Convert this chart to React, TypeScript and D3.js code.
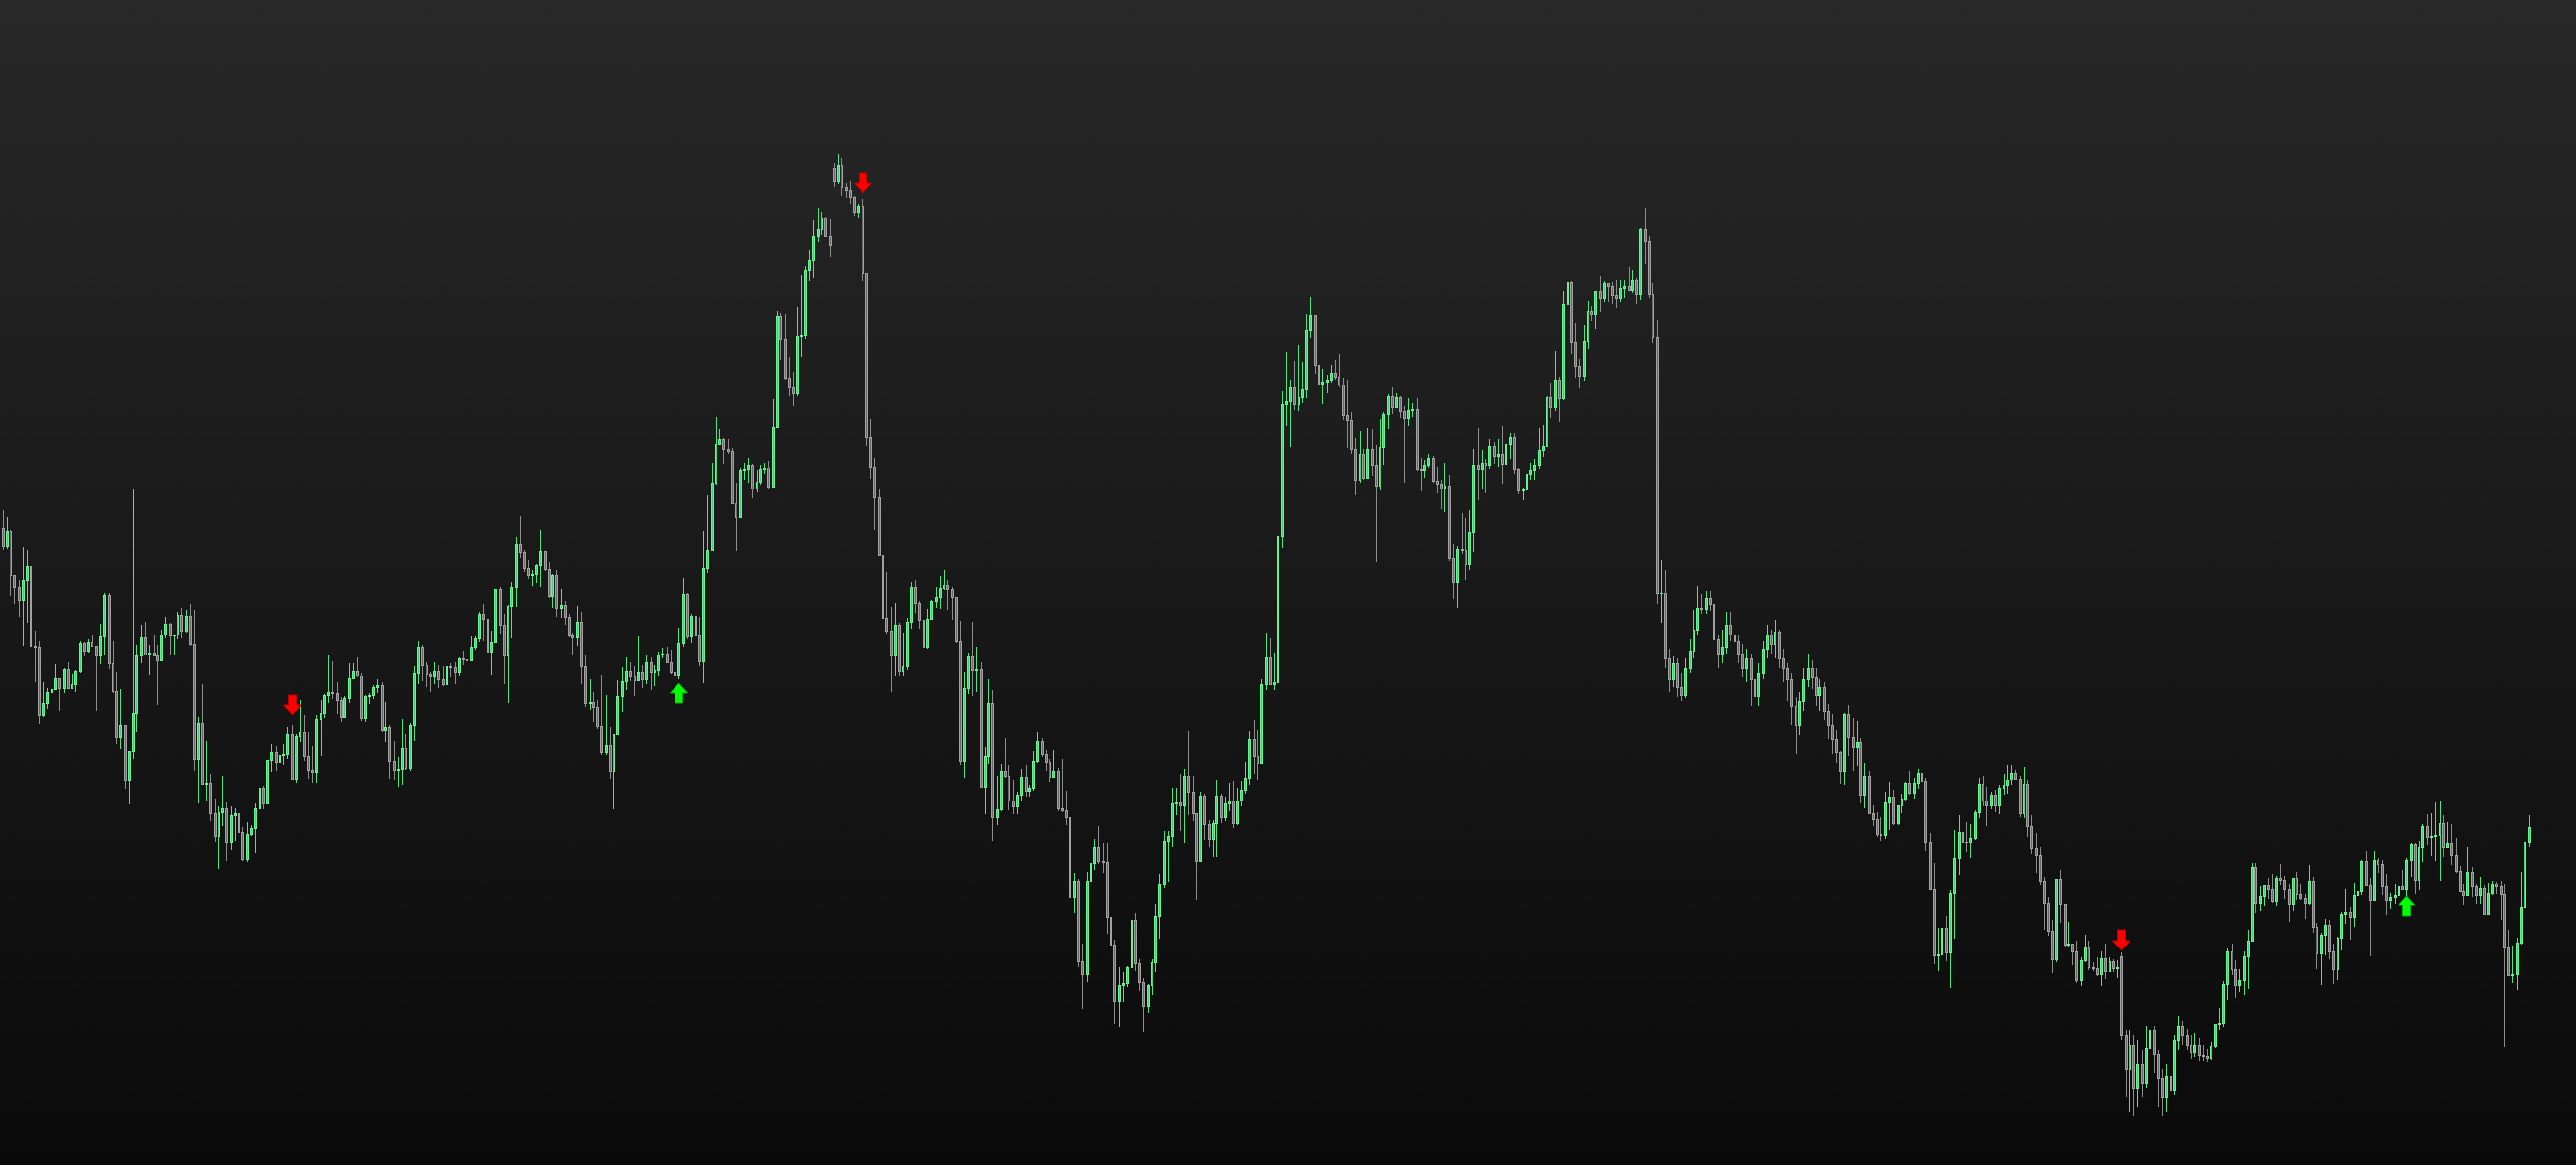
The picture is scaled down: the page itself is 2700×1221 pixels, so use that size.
import React from "react";
import * as d3 from "d3";

// price in points, one entry per candle (open = previous close unless gapped)
const closes = [
  628,643,597,585,571,592,607,523,522,451, 463,475,478,489,479,499,479,483,497,526,
  518,527,523,513,533,576,505,476,428,440, 382,413,453,513,532,514,516,513,508,535,
  546,534,535,555,539,554,525,404,442,378, 379,348,324,349,353,318,346,348,328,300,
  326,332,353,374,358,403,412,401,409,410, 431,384,429,433,408,393,391,446,453,472,
  475,474,466,449,468,489,497,492,447,471, 472,480,482,435,438,402,393,394,416,395,
  440,495,522,503,494,491,497,488,483,502, 501,496,510,509,508,522,531,556,551,517,
  527,583,545,513,565,585,630,621,605,597, 598,608,622,604,575,597,563,566,553,534,
  532,548,502,463,464,459,439,412,419,392, 431,471,486,497,491,487,496,488,506,496,
  498,514,515,506,496,493,526,577,533,554, 534,507,605,624,694,735,740,729,727,673,
  658,707,708,713,688,695,708,710,690,752, 869,845,804,794,788,848,849,917,927,953,
  960,972,953,943,1010,1027,1004,1001,994,978, 984,914,742,711,679,618,552,539,513,545,
  497,502,548,585,568,550,522,551,570,574, 584,587,583,574,528,402,479,512,498,499,
  375,408,463,344,352,392,387,361,355,367, 386,371,374,402,423,410,401,386,392,353,
  351,344,260,277,193,179,277,295,312,298, 297,239,210,151,168,170,186,236,191,171,
  146,168,192,240,273,319,324,358,359,356, 387,370,348,298,366,336,321,337,366,344,
  358,361,337,361,372,385,425,408,400,483, 511,483,485,638,777,780,794,777,784,792,
  854,870,817,798,800,802,809,805,797,765, 760,729,697,724,699,729,713,691,731,766,
  785,773,784,769,762,770,771,708,707,713, 720,696,693,688,691,615,590,625,624,609,
  642,713,708,715,713,733,722,724,714,735, 742,708,686,687,703,707,713,728,733,784,
  773,802,783,881,904,842,816,806,843,874, 871,895,888,903,900,891,888,898,900,896,
  907,892,960,947,892,847,578,579,510,488, 505,480,472,500,518,540,563,562,573,567,
  530,515,522,545,535,528,515,500,510,488, 470,495,520,535,525,538,510,500,488,460,
  440,465,488,500,490,472,480,455,440,425, 412,392,452,428,417,422,367,387,348,342,
  326,325,359,365,337,356,363,379,369,379, 390,381,318,268,199,200,227,202,264,301,
  328,318,317,322,349,378,361,356,367,356, 374,377,383,390,384,348,378,334,311,304,
  277,254,224,195,279,253,210,211,203,173, 194,207,186,185,179,196,182,193,185,186,
  115,80,105,60,85,65,102,120,95,70, 50,72,58,110,125,115,105,97,105,94,
  93,91,104,127,128,169,203,184,168,173, 198,214,291,254,261,272,268,256,280,278,
  268,253,280,263,259,254,277,228,201,220, 231,203,184,217,242,244,239,262,266,298,
  272,257,299,294,271,257,260,262,271,268, 299,315,278,312,334,323,324,325,337,312,
  316,304,287,266,262,286,271,262,269,242, 264,274,271,263,207,178,179,212,249,318,
  333,
];

const highs = [
  666,658,644,596,592,627,624,607,539,528, 485,479,488,504,489,500,506,494,498,528,
  527,530,535,523,546,579,578,528,496,478, 440,413,687,524,545,548,524,534,524,540,
  553,547,535,559,563,561,567,561,449,483, 423,389,363,355,387,359,355,353,353,333,
  339,335,358,379,376,403,420,418,416,420, 438,440,431,466,451,433,418,451,466,473,
  513,507,485,469,471,505,505,511,495,472, 474,482,488,485,464,440,423,407,446,431,
  442,502,528,524,506,496,506,503,502,503, 505,506,511,518,513,533,533,559,567,555,
  539,583,585,557,566,590,637,659,624,613, 603,609,644,622,611,598,603,583,570,557,
  537,565,559,513,488,475,466,493,472,438, 431,487,501,511,506,502,533,503,513,511,
  503,517,521,522,519,526,542,594,578,557, 561,553,643,681,715,763,750,741,740,730,
  694,709,715,720,714,707,713,715,717,782, 874,872,871,826,810,878,912,921,938,969,
  982,978,973,970,1029,1039,1034,1008,1010,995, 986,991,914,761,720,688,627,601,564,568,
  547,537,552,590,592,570,565,562,571,585, 596,603,592,585,574,549,496,516,548,522,
  506,417,488,477,387,399,427,398,383,370, 394,398,377,413,433,427,414,404,414,395,
  404,371,354,285,279,211,286,312,321,334, 316,316,273,215,186,181,188,260,243,195,
  175,169,195,253,284,329,329,374,374,389, 394,434,387,348,370,368,341,341,382,368,
  365,379,381,374,381,401,434,445,435,488, 537,531,516,661,790,831,802,822,838,821,
  871,889,863,841,813,807,817,823,829,804, 802,768,741,748,729,751,750,734,761,768,
  787,794,788,785,775,783,778,783,720,718, 724,722,711,697,715,702,630,628,662,657,
  666,729,751,728,719,740,737,740,754,740, 746,746,709,689,709,715,719,751,755,785,
  799,832,805,895,905,905,861,824,859,885, 879,895,911,906,903,904,907,907,907,920,
  917,909,961,982,953,903,865,613,603,520, 512,510,495,510,530,561,586,577,581,581,
  570,535,540,559,559,545,535,525,520,515, 500,505,528,545,540,550,540,520,505,495,
  470,475,500,515,508,500,488,485,462,452, 435,413,453,461,447,444,427,400,392,356,
  349,344,370,380,372,356,368,380,392,385, 394,403,385,327,296,227,233,240,267,330,
  346,370,338,336,351,385,387,375,370,372, 377,389,398,398,393,387,396,383,346,327,
  312,281,260,236,279,288,253,234,211,214, 197,220,214,192,197,203,211,197,195,194,
  202,120,120,115,110,100,125,130,125,100, 80,85,82,115,135,130,122,115,117,112,
  105,101,108,127,144,172,206,211,194,184, 203,225,295,295,271,272,280,284,282,294,
  282,273,280,286,273,263,293,281,233,222, 237,236,211,218,244,268,249,275,290,299,
  308,280,308,301,299,284,264,273,283,288, 301,317,317,319,336,347,348,359,361,346,
  338,336,322,292,273,312,291,273,281,272, 275,277,276,277,273,225,209,217,286,318,
  346,
];

const lows = [
  624,625,575,567,553,523,547,513,485,441, 449,457,467,477,455,474,479,479,475,495,
  512,516,523,455,504,514,499,474,420,415, 373,357,405,433,505,513,493,513,461,507,
  531,514,513,530,531,537,523,392,358,377, 361,340,318,289,334,298,309,319,314,298,
  297,324,306,329,352,357,391,392,399,398, 405,382,379,422,402,384,379,379,408,447,
  463,467,452,443,449,463,488,490,444,443, 462,467,474,433,422,384,383,375,377,393,
  392,423,483,486,480,475,483,479,481,473, 490,483,491,503,497,507,519,527,528,511,
  493,527,536,483,463,531,564,615,601,593, 586,589,585,602,573,563,553,552,545,532,
  513,523,483,459,456,443,436,409,409,384, 352,431,454,477,486,471,488,479,483,477,
  481,491,510,505,494,493,488,522,530,526, 512,502,484,599,623,692,736,714,724,672,
  622,657,697,694,678,684,692,703,688,691, 752,823,802,785,775,785,826,845,906,909,
  946,954,952,931,1004,1007,995,992,986,974, 971,906,733,698,644,618,535,536,475,491,
  491,491,498,541,558,541,510,520,550,563, 562,582,561,550,526,398,385,473,471,475,
  374,347,399,319,335,350,385,351,347,347, 361,365,365,371,400,407,392,380,385,350,
  349,335,257,243,186,143,171,255,288,294, 285,221,207,127,124,150,166,185,182,161,
  118,138,157,181,216,269,276,312,346,329, 316,346,340,257,297,320,312,302,302,337,
  340,350,332,335,355,368,377,389,383,399, 477,482,477,451,626,754,732,770,769,778,
  783,846,808,792,777,788,799,802,794,760, 730,724,681,694,697,699,701,611,686,713,
  750,766,772,762,694,753,763,706,685,699, 710,694,683,667,663,612,572,563,619,592,
  603,621,676,688,683,708,714,711,693,713, 719,703,682,676,684,697,697,708,721,731,
  762,769,758,781,855,829,804,793,801,834, 864,855,873,883,884,881,877,883,888,895,
  893,881,886,923,888,840,567,547,500,475, 480,470,465,468,495,510,535,557,557,560,
  520,500,505,515,528,510,505,490,485,460, 400,460,488,510,515,510,500,485,465,440,
  410,430,455,480,478,460,455,445,425,410, 400,378,377,408,392,397,358,353,347,334,
  323,319,321,330,335,335,348,361,367,363, 373,377,308,268,190,182,197,193,164,216,
  283,315,307,301,320,343,355,334,352,349, 347,367,368,377,382,344,343,323,305,285,
  272,225,219,180,192,233,208,207,189,170, 167,192,183,182,177,167,174,181,181,175,
  110,50,35,30,40,50,60,95,75,40, 30,35,50,52,100,105,100,90,92,88,
  88,87,89,102,120,124,152,178,154,160, 157,163,213,243,245,250,258,254,250,272,
  258,234,245,257,257,237,252,222,184,168, 199,195,169,173,204,232,215,228,260,262,
  271,198,257,285,262,241,247,253,259,267, 260,281,263,267,297,314,303,298,277,302,
  312,293,285,266,252,271,260,253,253,242, 242,262,263,236,103,177,170,162,210,249,
  312,
];

const firstOpen = 647;
// candles that open away from the previous close: [index, open]
const gapOpens = [[204, 1024], [520, 198]];
// signal arrows: [candle index, price at the arrow tip]
const sellSignals = [[71, 451], [211, 998], [520, 204]];
const buySignals = [[166, 484], [590, 261]];

const width = 2700;
const height = 1221;

export default function App() {
  const gaps = new Map(gapOpens.map(([i, p]) => [i, p]));
  const candles = closes.map((c, i) => {
    const o = i === 0 ? firstOpen : gaps.get(i) ?? closes[i - 1];
    return { i, o, c, h: Math.max(highs[i], o, c), l: Math.min(lows[i], o, c) };
  });

  const x = d3.scaleLinear().domain([0, closes.length - 1]).range([3, 2651]);
  const y = d3.scaleLinear()
    .domain([d3.min(lows) as number, d3.max(highs) as number])
    .range([1170, 161]);

  const cx = (i: number) => Math.floor(x(i)) + 0.5;

  const downArrow = (px: number, ty: number) =>
    `M${px - 4},${ty - 21}H${px + 4}V${ty - 10}H${px + 9}L${px},${ty}L${px - 9},${ty - 10}H${px - 4}Z`;
  const upArrow = (px: number, ty: number) =>
    `M${px - 4},${ty + 21}H${px + 4}V${ty + 10}H${px + 9}L${px},${ty}L${px - 9},${ty + 10}H${px - 4}Z`;

  return (
    <svg width={width} height={height} style={{ position: "absolute", left: 0, top: 0, display: "block" }}>
      <defs>
        <linearGradient id="bg" x1="0" y1="0" x2="0" y2="1">
          <stop offset="0%" stopColor="#282828" />
          <stop offset="100%" stopColor="#0a0a0a" />
        </linearGradient>
      </defs>
      <rect width={width} height={height} fill="url(#bg)" />
      <g shapeRendering="crispEdges">
        {candles.map(d => {
          const up = d.c > d.o;
          const px = cx(d.i);
          const top = Math.round(y(Math.max(d.o, d.c)));
          const bot = Math.round(y(Math.min(d.o, d.c)));
          return (
            <g key={d.i}>
              <line x1={px} x2={px} y1={Math.round(y(d.h))} y2={Math.round(y(d.l))}
                stroke={up ? "#4fe585" : "#8e8e8e"} strokeWidth={1} />
              <rect x={px - 1} y={top + 0.5} width={2} height={Math.max(0, bot - top)}
                fill={up ? "#3ed672" : "#6a6a6a"} stroke={up ? "#66f296" : "#a2a2a2"} strokeWidth={1} />
            </g>
          );
        })}
      </g>
      {sellSignals.map(([i, p]) => (
        <path key={"s" + i} d={downArrow(cx(i), y(p))} fill="#ff0000" stroke="#c00000" strokeWidth={1} />
      ))}
      {buySignals.map(([i, p]) => (
        <path key={"b" + i} d={upArrow(cx(i), y(p))} fill="#00ff00" stroke="#00b000" strokeWidth={1} />
      ))}
    </svg>
  );
}
